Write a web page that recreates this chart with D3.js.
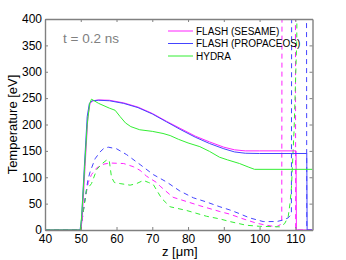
<!DOCTYPE html>
<html>
<head>
<meta charset="utf-8">
<script src="https://cdn.jsdelivr.net/npm/d3@7"></script>
<style>
  body { margin: 0; background: #fff; }
  svg { display: block; font-family: "Liberation Sans", Arial, sans-serif; }
</style>
</head>
<body>
<div id="chart"></div>
<script>
// x ticks / y ticks
const xTicks = [40, 50, 60, 70, 80, 90, 100, 110];
const yTicks = [0, 50, 100, 150, 200, 250, 300, 350, 400];

// solid lines: [z (um), T (eV)]
const sesameSolid = [[40,0],[50,0],[50.4,20],[51.2,120],[52,215],[52.6,240],[53.4,245],[55,246.5],[58,246],[62,241],[66,233],[70,221],[74,206],[78,192],[82,178],[86,167],[90,157],[93,152],[96,150],[100,150],[110.2,150],[110.3,0],[114.8,0]];
const propSolid = [[40,0],[49.8,0],[50.2,20],[51,120],[51.8,215],[52.4,240],[53.2,245],[55,246],[58,245],[62,240],[66,232],[70,220],[74,205],[78,190],[82,176],[86,164],[90,154],[93,148],[96,145.5],[100,145],[113.2,145],[113.3,0],[114.8,0]];
const hydraSolid = [[40,0],[49.9,0],[50.3,30],[51,110],[51.8,200],[52.5,240],[53,248],[55,240],[58,231],[59.6,227],[61,215],[62.5,203],[64,196],[66.5,190],[70,187],[73,183],[75,179],[77.3,172],[80,165],[83.3,158],[86,149],[88.8,138],[91,133],[94.4,126],[97,119],[98.6,115],[114.8,115]];

// dashed lines
const sesameDash = [[40,0],[50,0],[51,50],[52.1,90],[53,105],[54.5,118],[56.5,125],[58.2,127],[62,126],[64.7,120],[66.6,113],[68.4,102],[71.2,90],[72.2,83],[75.8,62],[77.7,58],[83.3,46],[88.9,35],[91.7,30],[95,22],[99.1,13],[102,9],[104.7,6],[105.8,10],[106.2,15],[106.3,600],[110,600],[110.1,0],[114.8,0]];
const propDash = [[40,0],[50,0],[51,50],[52,95],[52.6,110],[54,135],[55.4,148],[56.5,155],[57.7,157],[60,154],[62.8,143],[66.6,124],[70.3,105],[74,91],[77.7,74],[81.5,61],[85.2,53],[88.9,44],[91.7,38],[94,32],[97.2,23],[101,16],[104.8,16],[106.6,19],[108,23],[108.9,30],[109,600],[113.1,600],[113.2,0],[114.8,0]];
const hydraDash = [[40,0],[50,0],[50.5,25],[51.6,76],[53,88],[54.5,115],[56,126],[57.5,134],[58,130],[58.6,100],[59.4,90],[61,88],[63.8,85],[65.6,88],[67.5,94],[69,90],[70.3,86],[72.6,60],[75,44],[79.6,37],[85.2,26],[88.9,21],[91.7,16],[96.3,9],[100,7],[105.6,6],[107,12],[108,25],[108.5,50],[108.9,79],[109.65,190],[110.4,360],[110.6,600],[114.8,600]];

const seriesNames = ["FLASH (SESAME)", "FLASH (PROPACEOS)", "HYDRA"];
const seriesColors = ["#ff22ff", "#4444ff", "#33ee33"];

const W = 346, H = 260;
const x = d3.scaleLinear().domain([40, 114.8]).range([45, 312.5]);
const y = d3.scaleLinear().domain([0, 400]).range([230, 19]);

const svg = d3.select("#chart").append("svg")
  .attr("width", W).attr("height", H);

svg.append("defs").append("clipPath").attr("id", "clip")
  .append("rect")
  .attr("x", x(40)).attr("y", y(400))
  .attr("width", x(114.8) - x(40)).attr("height", y(0) - y(400));

const line = d3.line().x(d => x(d[0])).y(d => y(d[1]));

const plot = svg.append("g").attr("clip-path", "url(#clip)");

const dashed = [sesameDash, propDash, hydraDash];
const solid = [sesameSolid, propSolid, hydraSolid];

dashed.forEach((s, i) => {
  plot.append("path").datum(s)
    .attr("d", line)
    .attr("fill", "none")
    .attr("stroke", seriesColors[i])
    .attr("stroke-width", 1)
    .attr("stroke-dasharray", "5,4");
});
solid.forEach((s, i) => {
  plot.append("path").datum(s)
    .attr("d", line)
    .attr("fill", "none")
    .attr("stroke", seriesColors[i])
    .attr("stroke-width", 1);
});

// axes (matlab-like box with inside ticks)
const axisColor = "#808080";
const gx = svg.append("g").attr("transform", `translate(0,${y(0)})`)
  .call(d3.axisBottom(x).tickValues(xTicks).tickSizeInner(-3).tickSizeOuter(0).tickPadding(4));
const gxTop = svg.append("g").attr("transform", `translate(0,${y(400)})`)
  .call(d3.axisTop(x).tickValues(xTicks).tickSizeInner(-3).tickSizeOuter(0).tickFormat(""));
const gy = svg.append("g").attr("transform", `translate(${x(40)},0)`)
  .call(d3.axisLeft(y).tickValues(yTicks).tickSizeInner(-3).tickSizeOuter(0).tickPadding(3));
const gyRight = svg.append("g").attr("transform", `translate(${x(114.8)},0)`)
  .call(d3.axisRight(y).tickValues(yTicks).tickSizeInner(-3).tickSizeOuter(0).tickFormat(""));

[gx, gxTop, gy, gyRight].forEach(g => {
  g.select(".domain").attr("stroke", axisColor).attr("stroke-width", 1.4);
  g.selectAll(".tick line").attr("stroke", axisColor);
  g.selectAll(".tick text").attr("fill", "#000").style("font-size", "12px")
    .style("font-family", "'Liberation Sans', Arial, sans-serif");
});

// labels
svg.append("text")
  .attr("x", (x(40) + x(114.8)) / 2 + 1).attr("y", 256)
  .attr("text-anchor", "middle")
  .style("font-size", "13px")
  .text("z [μm]");

svg.append("text")
  .attr("transform", `translate(17,${(y(0) + y(400)) / 2}) rotate(-90)`)
  .attr("text-anchor", "middle")
  .style("font-size", "13px")
  .text("Temperature [eV]");

svg.append("text")
  .attr("x", 63).attr("y", 42.5)
  .attr("fill", "#808080")
  .style("font-size", "13.5px")
  .text("t = 0.2 ns");

// legend
const legend = svg.append("g");
seriesNames.forEach((name, i) => {
  const ly = 31 + i * 12.5;
  legend.append("line")
    .attr("x1", 168).attr("x2", 193)
    .attr("y1", ly).attr("y2", ly)
    .attr("stroke", seriesColors[i]).attr("stroke-width", 1);
  legend.append("text")
    .attr("x", 196).attr("y", ly + 3.5)
    .style("font-size", "10px")
    .text(name);
});
</script>
</body>
</html>
